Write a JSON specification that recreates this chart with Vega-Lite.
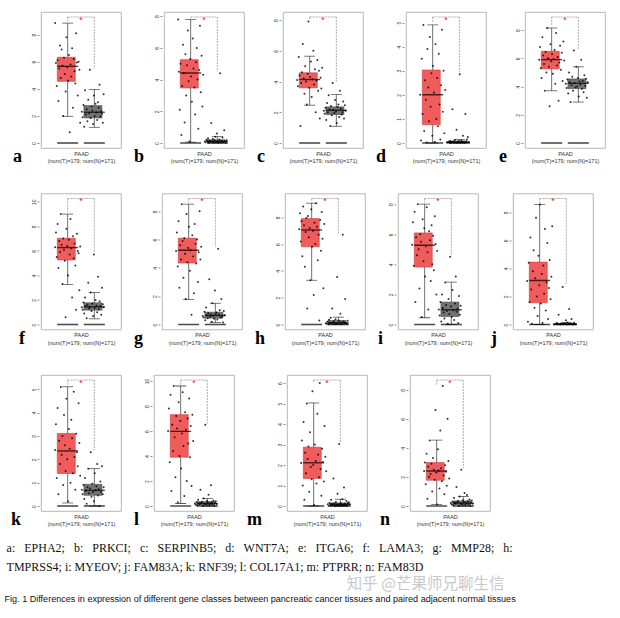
{
"$schema":"https://vega.github.io/schema/vega-lite/v6.json",
"padding":{"left":4,"top":11,"right":0,"bottom":0},
"background":"white",
"config":{"font":"Liberation Sans","view":{"stroke":"#a6a6a6","strokeWidth":0.8},
 "axisY":{"domain":false,"grid":false,"tickSize":2,"tickWidth":0.6,"tickColor":"#444","labelFontSize":5,"labelColor":"#333","labelAngle":-90,"labelPadding":1,"offset":2,"tickCount":5,"title":null},
 "axisX":{"labels":false,"ticks":false,"domain":false,"titleFontSize":5.5,"titleFontWeight":"normal","titleColor":"#333","titlePadding":3,"titleLineHeight":7.5}},
"title":{"text":"Fig. 1  Differences in expression of different gene classes between pancreatic cancer tissues and paired adjacent normal tissues","orient":"bottom","anchor":"start","font":"Liberation Sans","fontSize":9.05,"fontWeight":"normal","color":"#111","dx":-2,"offset":2},
"vconcat":[{
"title":{"text":"知乎 @芒果师兄聊生信","orient":"bottom","anchor":"end","font":"Noto Sans CJK SC","fontSize":15.5,"fontWeight":"normal","color":"#c9c9c9","dx":-101,"offset":4},
"vconcat":[{
"title":{"text":["a: \u00a0\u00a0EPHA2; \u00a0\u00a0b: \u00a0\u00a0PRKCI; \u00a0\u00a0c: \u00a0\u00a0SERPINB5; \u00a0\u00a0d: \u00a0\u00a0WNT7A; \u00a0\u00a0e: \u00a0\u00a0ITGA6; \u00a0\u00a0f: \u00a0\u00a0LAMA3; \u00a0\u00a0g: \u00a0\u00a0MMP28; \u00a0\u00a0h:","TMPRSS4; i: MYEOV; j: FAM83A; k: RNF39; l: COL17A1; m: PTPRR; n: FAM83D"],"orient":"bottom","anchor":"start","font":"Liberation Serif","fontSize":12,"fontWeight":"normal","color":"#111","lineHeight":19,"offset":14,"dx":-4},
"data":{"values":[
{"k":"pt","p":"a","g":"T","v":[8.85,5.9,4.2,6.1,3.1,5.5,7.2,4.8,6.9,5.7,2.0,6.3,5.1,3.8,7.8,5.6,4.6,6.5,0.8,5.8,4.9,7.0,2.6,6.2,5.3,4.4,8.1,5.95,3.5,6.0,5.4,1.5]},
{"k":"pt","p":"a","g":"N","v":[2.3,1.9,2.8,1.2,3.9,2.1,2.5,1.6,3.2,2.2,5.4,1.85,2.7,2.4,1.4,3.5,2.0,2.9,2.25,1.7,3.0,2.6,4.3,1.95,2.35,2.15,1.5,3.6]},
{"k":"bx","p":"a","g":"T","lo":1.97,"q1":4.55,"md":5.66,"q3":6.33,"hi":8.85},
{"k":"bx","p":"a","g":"N","lo":1.16,"q1":1.85,"md":2.27,"q3":2.76,"hi":3.94},
{"k":"br","p":"a","top":9.3,"tl":9.0,"tr":5.5},
{"k":"pt","p":"b","g":"T","v":[7.8,4.5,2.1,5.0,0.5,3.6,6.2,4.4,1.3,5.6,3.0,4.9,7.1,3.9,0.1,5.3,4.2,2.6,6.6,4.7,3.5,1.8,5.1,6.0,4.0,0.9,4.6,7.4,3.2,5.5,2.3,4.3]},
{"k":"pt","p":"b","g":"N","v":[0.1,0.05,0.2,0.12,0.3,0.02,0.15,0.08,1.26,0.1,0.25,0.04,0.18,0.4,0.07,0.6,0.11,0.03,0.22,4.4,0.09,0.14,0.35,0.06,0.8,0.13,0.01,0.17]},
{"k":"bx","p":"b","g":"T","lo":0.05,"q1":3.47,"md":4.42,"q3":5.26,"hi":7.8},
{"k":"bx","p":"b","g":"N","lo":0,"q1":0.05,"md":0.1,"q3":0.2,"hi":0.4},
{"k":"br","p":"b","top":7.95,"tl":7.9,"tr":4.5},
{"k":"pt","p":"c","g":"T","v":[4.1,3.7,5.6,4.4,1.1,3.9,4.6,6.45,4.2,3.2,5.0,4.0,2.5,4.5,7.9,3.6,4.3,5.3,3.0,4.15,6.0,3.8,4.8,2.0,4.05,5.4,3.4,4.7,1.6,4.25,3.55,4.9]},
{"k":"pt","p":"c","g":"N","v":[2.1,1.9,2.3,1.5,2.6,2.0,3.1,2.2,1.1,2.4,1.8,3.9,2.15,1.95,2.8,2.05,1.3,2.35,2.5,1.7,3.4,2.25,1.85,2.0,2.7,1.6,2.45,2.1]},
{"k":"bx","p":"c","g":"T","lo":2.46,"q1":3.59,"md":4.13,"q3":4.57,"hi":5.65},
{"k":"bx","p":"c","g":"N","lo":1.09,"q1":1.85,"md":2.13,"q3":2.35,"hi":3.15},
{"k":"br","p":"c","top":8.2,"tl":8.0,"tr":4.0},
{"k":"pt","p":"d","g":"T","v":[2.0,0.1,3.5,1.2,4.9,0.5,2.6,1.8,0.02,3.9,2.3,0.9,4.4,1.5,2.9,0.3,3.2,2.1,0.05,4.1,1.0,2.7,0.7,3.7,1.6,0.15,2.4,4.7,1.3,3.0,0.4,2.2]},
{"k":"pt","p":"d","g":"N","v":[0.03,0.01,0.05,0.02,0.08,0.0,0.04,1.4,0.06,0.02,0.12,0.03,0.55,0.01,0.07,0.04,2.85,0.02,0.1,0.05,0.3,0.03,0.01,1.2,0.06,0.15,0.25,0.04]},
{"k":"bx","p":"d","g":"T","lo":0,"q1":0.76,"md":2.0,"q3":3.03,"hi":4.9},
{"k":"bx","p":"d","g":"N","lo":0,"q1":0.01,"md":0.03,"q3":0.08,"hi":0.15},
{"k":"br","p":"d","top":5.23,"tl":5.0,"tr":2.95},
{"k":"pt","p":"e","g":"T","v":[5.9,6.8,5.3,4.6,7.5,6.2,5.6,3.7,6.45,5.0,8.15,6.0,5.4,2.6,7.0,5.8,6.3,4.9,5.95,6.6,4.2,7.8,5.5,6.1,3.0,5.7,6.9,5.2,6.4,4.4,7.2,5.85]},
{"k":"pt","p":"e","g":"N","v":[4.2,3.9,4.5,3.5,5.0,4.3,2.9,4.1,4.7,3.7,6.55,4.25,3.95,5.4,4.0,4.6,3.3,4.35,4.15,5.9,3.85,4.4,3.6,4.8,4.05,4.55,3.2,4.3]},
{"k":"bx","p":"e","g":"T","lo":3.7,"q1":5.25,"md":5.91,"q3":6.5,"hi":8.15},
{"k":"bx","p":"e","g":"N","lo":2.9,"q1":3.85,"md":4.23,"q3":4.54,"hi":5.4},
{"k":"br","p":"e","top":8.93,"tl":8.3,"tr":6.65},
{"k":"pt","p":"f","g":"T","v":[6.3,7.5,5.5,8.2,4.6,6.8,5.9,9.0,6.5,3.3,7.0,6.1,5.2,0.6,7.8,6.4,4.0,6.9,5.7,8.6,6.2,2.2,7.2,5.4,6.6,4.8,1.2,7.4,6.0,5.8,2.8,6.35]},
{"k":"pt","p":"f","g":"N","v":[1.4,1.2,1.8,0.9,2.2,1.5,0.5,1.6,3.4,1.3,1.45,2.6,1.1,1.7,0.7,5.7,1.35,2.0,1.55,1.0,3.9,1.25,1.9,1.5,0.8,3.0,1.65,1.4]},
{"k":"bx","p":"f","g":"T","lo":3.27,"q1":5.26,"md":6.27,"q3":7.03,"hi":9.0},
{"k":"bx","p":"f","g":"N","lo":0.46,"q1":1.17,"md":1.44,"q3":1.77,"hi":2.6},
{"k":"br","p":"f","top":10.27,"tl":9.15,"tr":5.85},
{"k":"pt","p":"g","g":"T","v":[5.2,6.5,4.1,7.3,2.6,5.6,4.6,8.5,5.9,3.3,6.1,5.0,1.8,7.8,4.4,5.4,6.9,3.8,5.25,0.68,6.3,4.8,2.2,7.1,5.7,4.3,6.0,3.0,5.1,8.0,4.6,5.5]},
{"k":"pt","p":"g","g":"N","v":[0.6,0.5,0.9,0.3,1.2,0.65,0.45,0.8,3.2,0.55,0.7,0.2,1.5,0.62,0.4,2.4,0.75,0.85,0.35,5.35,0.68,1.0,0.5,1.8,0.58,0.15,0.95,0.66]},
{"k":"bx","p":"g","g":"T","lo":1.77,"q1":4.34,"md":5.24,"q3":6.1,"hi":8.5},
{"k":"bx","p":"g","g":"N","lo":0.15,"q1":0.45,"md":0.64,"q3":0.87,"hi":1.5},
{"k":"br","p":"g","top":8.9,"tl":8.6,"tr":5.45},
{"k":"pt","p":"h","g":"T","v":[7.1,8.3,6.2,7.7,5.1,8.8,7.4,4.3,6.9,7.95,1.2,8.1,6.5,7.2,3.3,8.6,5.8,7.0,2.2,7.6,6.0,9.05,7.3,4.8,6.7,0.3,7.8,5.5,8.4,6.4,2.7,7.5]},
{"k":"pt","p":"h","g":"N","v":[0.1,0.05,0.2,0.02,0.35,0.12,0.5,0.08,1.2,0.15,0.25,0.03,0.4,0.1,3.55,0.06,0.3,0.18,0.8,0.01,0.14,6.7,0.22,0.09,1.9,0.13,0.04,0.28]},
{"k":"bx","p":"h","g":"T","lo":3.3,"q1":5.8,"md":7.05,"q3":7.9,"hi":9.05},
{"k":"bx","p":"h","g":"N","lo":0,"q1":0.05,"md":0.12,"q3":0.3,"hi":0.55},
{"k":"br","p":"h","top":9.4,"tl":9.15,"tr":6.8},
{"k":"pt","p":"i","g":"T","v":[5.3,6.8,3.9,7.5,1.5,5.8,4.6,8.0,5.0,2.4,6.0,5.5,0.5,7.0,4.2,6.4,3.2,5.2,7.8,4.8,1.0,6.2,5.6,2.9,6.6,4.0,5.9,3.6,7.2,5.35,2.0,4.9]},
{"k":"pt","p":"i","g":"N","v":[1.0,0.6,1.5,0.2,2.0,1.1,0.8,0.4,2.8,1.3,0.9,0.05,1.7,0.7,4.5,1.2,0.5,2.3,0.95,0.3,1.4,3.2,0.85,1.05,0.1,1.9,0.65,1.25]},
{"k":"bx","p":"i","g":"T","lo":0.45,"q1":3.82,"md":5.27,"q3":6.09,"hi":8.0},
{"k":"bx","p":"i","g":"N","lo":0,"q1":0.53,"md":0.98,"q3":1.49,"hi":2.82},
{"k":"br","p":"i","top":8.38,"tl":8.1,"tr":4.6},
{"k":"pt","p":"j","g":"T","v":[3.1,0.2,4.4,1.6,6.2,2.5,0.05,3.8,5.3,1.2,3.3,7.6,2.0,0.6,4.9,2.8,8.55,1.5,3.6,0.1,4.2,2.2,6.8,1.0,3.0,5.8,0.4,2.6,4.6,1.8,3.4,7.0]},
{"k":"pt","p":"j","g":"N","v":[0.02,0.0,0.05,0.01,0.1,0.03,0.7,0.02,0.0,0.06,0.04,2.67,0.01,0.08,0.03,0.3,0.0,0.15,0.02,1.1,0.05,0.01,0.4,0.04,0.0,0.12,0.03,0.02]},
{"k":"bx","p":"j","g":"T","lo":0,"q1":1.55,"md":3.14,"q3":4.45,"hi":8.55},
{"k":"bx","p":"j","g":"N","lo":0,"q1":0.0,"md":0.02,"q3":0.06,"hi":0.15},
{"k":"br","p":"j","top":8.98,"tl":8.65,"tr":2.9},
{"k":"pt","p":"k","g":"T","v":[2.4,3.5,1.2,4.2,0.5,2.8,1.8,5.1,2.2,3.0,0.9,3.9,2.6,1.5,4.6,2.0,0.2,3.3,2.45,1.0,3.7,2.9,1.4,4.9,2.1,0.7,3.1,2.3,1.7,4.4,2.7,1.3]},
{"k":"pt","p":"k","g":"N","v":[0.7,0.5,0.9,0.3,1.2,0.65,0.1,0.8,1.6,0.55,0.75,2.3,0.4,0.95,0.6,0.2,1.4,0.68,0.85,1.8,0.45,0.72,0.0,1.05,0.6,1.7,0.5,0.8]},
{"k":"bx","p":"k","g":"T","lo":0.13,"q1":1.39,"md":2.36,"q3":3.11,"hi":5.11},
{"k":"bx","p":"k","g":"N","lo":0,"q1":0.46,"md":0.67,"q3":0.93,"hi":1.6},
{"k":"br","p":"k","top":5.4,"tl":5.2,"tr":2.4},
{"k":"pt","p":"l","g":"T","v":[6.0,7.8,3.5,8.9,1.2,6.5,4.4,9.6,5.5,2.3,7.2,6.2,0.3,8.3,4.0,6.8,3.0,5.8,9.1,4.8,0.8,7.5,6.1,2.0,7.0,5.0,8.6,3.9,6.4,1.6,7.3,5.2]},
{"k":"pt","p":"l","g":"N","v":[0.2,0.1,0.3,0.05,0.5,0.22,0.15,1.3,0.25,0.35,0.02,0.6,0.18,6.5,0.12,0.4,0.28,0.9,0.08,0.2,1.67,0.32,0.14,0.45,0.0,0.24,0.38,0.16]},
{"k":"bx","p":"l","g":"T","lo":0.2,"q1":3.9,"md":5.97,"q3":7.31,"hi":9.6},
{"k":"bx","p":"l","g":"N","lo":0,"q1":0.1,"md":0.2,"q3":0.35,"hi":0.6},
{"k":"br","p":"l","top":10.08,"tl":9.7,"tr":6.6},
{"k":"pt","p":"m","g":"T","v":[2.1,3.2,1.0,4.1,0.3,2.6,1.6,5.0,2.3,2.9,0.7,3.6,1.9,1.3,5.6,2.0,0.05,3.0,2.2,1.1,4.5,2.5,1.4,6.0,1.8,0.5,2.8,2.15,1.2,3.9,2.4,1.7]},
{"k":"pt","p":"m","g":"N","v":[0.08,0.0,0.15,0.03,0.3,0.1,0.05,1.34,0.12,0.0,0.2,0.07,0.6,0.02,3.03,0.09,0.14,0.0,0.33,0.06,0.9,0.11,0.04,0.25,0.01,0.13,0.18,0.08]},
{"k":"bx","p":"m","g":"T","lo":0,"q1":1.34,"md":2.11,"q3":2.87,"hi":5.03},
{"k":"bx","p":"m","g":"N","lo":0,"q1":0.0,"md":0.08,"q3":0.15,"hi":0.33},
{"k":"br","p":"m","top":6.15,"tl":6.05,"tr":3.1},
{"k":"pt","p":"n","g":"T","v":[2.4,3.0,1.5,3.6,0.5,2.7,2.0,4.5,2.2,2.9,1.0,3.3,2.5,1.8,6.6,2.3,0.1,3.9,2.45,1.2,5.2,2.6,1.7,8.25,2.1,0.8,2.8,2.35,1.4,6.0,3.1,1.9]},
{"k":"pt","p":"n","g":"N","v":[0.2,0.1,0.3,0.05,0.55,0.22,0.15,1.3,0.25,0.35,0.02,0.65,0.18,2.5,0.12,0.4,0.28,0.9,0.08,0.2,0.75,0.32,0.14,0.45,0.0,0.24,0.38,0.16]},
{"k":"bx","p":"n","g":"T","lo":0.1,"q1":1.77,"md":2.41,"q3":2.99,"hi":4.53},
{"k":"bx","p":"n","g":"N","lo":0,"q1":0.1,"md":0.2,"q3":0.35,"hi":0.65},
{"k":"br","p":"n","top":8.67,"tl":8.35,"tr":2.6}
]},
"columns":5,
"spacing":{"column":11,"row":25.5},
"resolve":{"scale":{"y":"independent"},"axis":{"x":"independent"}},
"facet":{"field":"p","type":"nominal","title":null,
 "header":{"labelOrient":"left","labelAngle":0,"labelAnchor":"start","labelAlign":"right","labelBaseline":"top","labelFont":"Liberation Serif","labelFontSize":18,"labelFontWeight":"bold","labelColor":"#000","labelPadding":0}},
"spec":{
 "width":80,"height":136,
 "encoding":{
  "x":{"field":"g","type":"nominal","scale":{"domain":["T","N"],"paddingInner":0,"paddingOuter":0.5},"axis":{"title":["PAAD","(num(T)=179; num(N)=171)"]}},
  "y":{"type":"quantitative","scale":{"nice":false,"padding":5}}
 },
 "layer":[
  {"transform":[{"filter":"datum.k==='bx'"}],"mark":{"type":"rule","color":"#111","strokeWidth":0.6},
   "encoding":{"y":{"field":"lo","type":"quantitative"},"y2":{"field":"hi"}}},
  {"transform":[{"filter":"datum.k==='bx'"}],"mark":{"type":"bar","width":{"band":0.78},"strokeWidth":0.6},
   "encoding":{"y":{"field":"q1","type":"quantitative"},"y2":{"field":"q3"},
    "color":{"field":"g","type":"nominal","scale":{"domain":["T","N"],"range":["#f05b5b","#737373"]},"legend":null},
    "stroke":{"field":"g","type":"nominal","scale":{"domain":["T","N"],"range":["#c94242","#454545"]},"legend":null}}},
  {"transform":[{"filter":"datum.k==='bx'"}],"mark":{"type":"tick","size":11,"thickness":0.8,"color":"#111"},
   "encoding":{"y":{"field":"lo","type":"quantitative"}}},
  {"transform":[{"filter":"datum.k==='bx'"}],"mark":{"type":"tick","size":11,"thickness":0.8,"color":"#111"},
   "encoding":{"y":{"field":"hi","type":"quantitative"}}},
  {"transform":[{"filter":"datum.k==='bx'"}],"mark":{"type":"tick","size":21,"thickness":1.6,"color":"#000"},
   "encoding":{"y":{"datum":0,"type":"quantitative"}}},
  {"transform":[{"filter":"datum.k==='pt'"},{"flatten":["v"],"as":["val"]},{"window":[{"op":"row_number","as":"i"}],"groupby":["g"]}],
   "mark":{"type":"circle","size":4,"color":"#000","opacity":0.8},
   "encoding":{"xOffset":{"field":"i","type":"ordinal","scale":{"paddingOuter":7.5,"paddingInner":0}},"y":{"field":"val","type":"quantitative"}}},
  {"transform":[{"filter":"datum.k==='bx'"}],"mark":{"type":"tick","size":21,"thickness":1.4,"color":"#000"},
   "encoding":{"y":{"field":"md","type":"quantitative"}}},
  {"transform":[{"filter":"datum.k==='br'"}],"mark":{"type":"rule","color":"#8c8c8c","strokeWidth":0.7,"strokeDash":[2,1]},
   "encoding":{"x":{"datum":"T","bandPosition":0.5},"x2":{"datum":"N","bandPosition":0.5},"y":{"field":"top","type":"quantitative"}}},
  {"transform":[{"filter":"datum.k==='br'"}],"mark":{"type":"rule","color":"#8c8c8c","strokeWidth":0.7,"strokeDash":[2,1]},
   "encoding":{"x":{"datum":"T","bandPosition":0.5},"y":{"field":"top","type":"quantitative"},"y2":{"field":"tl"}}},
  {"transform":[{"filter":"datum.k==='br'"}],"mark":{"type":"rule","color":"#8c8c8c","strokeWidth":0.7,"strokeDash":[2,1]},
   "encoding":{"x":{"datum":"N","bandPosition":0.5},"y":{"field":"top","type":"quantitative"},"y2":{"field":"tr"}}},
  {"transform":[{"filter":"datum.k==='br'"}],"mark":{"type":"text","text":"*","color":"#e0302f","fontSize":9,"baseline":"middle","dx":13.3,"dy":2.5},
   "encoding":{"x":{"datum":"T","bandPosition":0.5},"y":{"field":"top","type":"quantitative"}}}
 ]
}
}]
}]
}
